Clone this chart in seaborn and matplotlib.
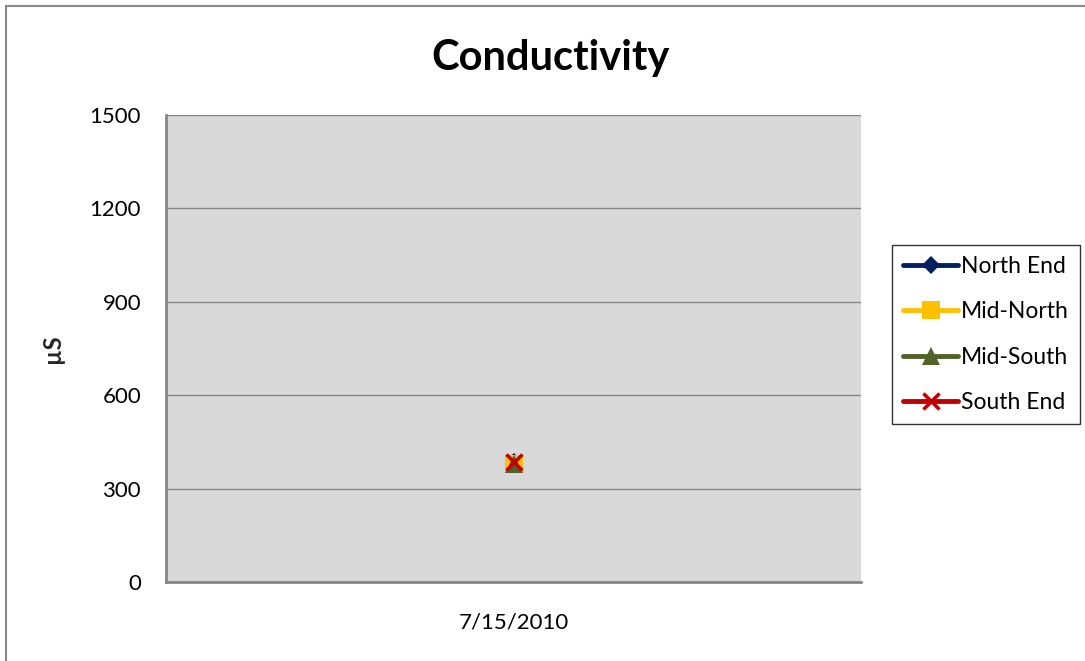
import matplotlib
matplotlib.use("Agg")
import matplotlib.pyplot as plt
import seaborn as sns
import pandas as pd

# data
dates = ["7/15/2010"]
sites = ["North End", "Mid-North", "Mid-South", "South End"]
north_end = [385]
mid_north = [380]
mid_south = [380]
south_end = [385]
y_ticks = [0, 300, 600, 900, 1200, 1500]

colors = {"North End": "#002060", "Mid-North": "#FFC000",
          "Mid-South": "#4F6228", "South End": "#C00000"}
markers = {"North End": "D", "Mid-North": "s", "Mid-South": "^", "South End": "x"}
msizes = {"North End": 9, "Mid-North": 13, "Mid-South": 13, "South End": 12}

df = pd.DataFrame({"Date": dates * 4,
                   "Site": sum([[s] for s in sites], []),
                   "uS": north_end + mid_north + mid_south + south_end})

sns.set_theme(style="white")
plt.rcParams["font.family"] = ["Lato", "DejaVu Sans"]

fig = plt.figure(figsize=(10.85, 6.61), dpi=100)
ax = fig.add_axes([166 / 1085, 1 - 582 / 661, 695 / 1085, 467 / 661])
ax.set_facecolor("#D9D9D9")

for s in sites:
    d = df[df["Site"] == s]
    sns.lineplot(data=d, x="Date", y="uS", ax=ax, color=colors[s],
                 marker=markers[s], markersize=msizes[s],
                 markeredgewidth=2.5 if s == "South End" else 0,
                 markeredgecolor=colors[s], linewidth=3.5, label=s)

ax.set_ylim(0, 1500)
ax.set_yticks(y_ticks)
ax.set_xlim(-0.5, 0.5)
ax.yaxis.grid(True, color="#868686", linewidth=1)
ax.set_axisbelow(True)
for side in ["top", "right"]:
    ax.spines[side].set_visible(False)
for side in ["left", "bottom"]:
    ax.spines[side].set_color("#868686")
    ax.spines[side].set_linewidth(2)
ax.tick_params(axis="y", labelsize=16, length=0, pad=18, colors="black")
ax.tick_params(axis="x", labelsize=16, length=0, pad=22, colors="black")
ax.set_xlabel("")
ax.set_ylabel("µS", fontsize=17, fontweight="bold", labelpad=18)

# title is centred on the whole chart area, not on the plot
fig.text(551 / 1085, 1 - 58 / 661, "Conductivity", fontsize=30, fontweight="bold",
         color="black", ha="center", va="center")

leg = ax.legend(loc="center left", bbox_to_anchor=((892 - 166) / 695, (582 - 334.5) / 467),
                frameon=True, fancybox=False, fontsize=16.5, handlelength=2.4,
                handletextpad=0.1, labelspacing=1.05, borderpad=0.5, borderaxespad=0)
leg.get_frame().set_edgecolor("black")
leg.get_frame().set_linewidth(1)
for t in leg.get_texts():
    t.set_color("black")

# outer chart border
fig.patches.append(plt.Rectangle((6 / 1085, -0.1), 1.2, 1 - 6 / 661 + 0.1,
                                 transform=fig.transFigure, fill=False,
                                 edgecolor="#868686", linewidth=1.5))

fig.savefig("out.png", dpi=100)
